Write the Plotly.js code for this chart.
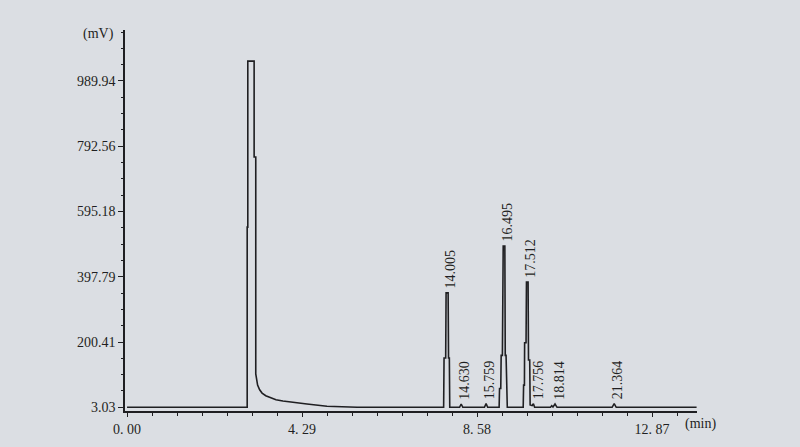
<!DOCTYPE html>
<html>
<head>
<meta charset="utf-8">
<script src="https://cdn.plot.ly/plotly-3.0.1.min.js"></script>
<style>html,body{margin:0;padding:0;background:#dbdee3;}#chart{width:800px;height:447px;}</style>
</head>
<body>
<div id="chart"></div>
<script>
// Chromatogram trace (time on axis units, signal in mV)
var timeMin = [0, 2.945, 2.945, 2.96, 2.96, 3.115, 3.115, 3.155, 3.155,
  3.17, 3.20, 3.25, 3.31, 3.40, 3.51, 3.65, 3.82, 4.10, 4.41, 4.90, 5.64,
  7.76, 7.77, 7.81, 7.82, 7.87, 7.88, 7.90, 7.91,
  8.15, 8.19, 8.23,
  8.76, 8.80, 8.84,
  9.12, 9.13, 9.16, 9.17, 9.20, 9.22, 9.26, 9.27, 9.29, 9.30, 9.32,
  9.71, 9.72, 9.74, 9.745, 9.78, 9.79, 9.83, 9.84, 9.87, 9.88, 9.93, 9.96, 9.99,
  10.38, 10.41, 10.44, 10.49, 10.54,
  11.89, 11.94, 11.99,
  13.96];
var signalMv = [3, 3, 548, 548, 1050, 1050, 760, 760, 104,
  86, 70, 56, 46, 38, 32, 26, 22, 17, 13, 6, 3,
  3, 152, 152, 349, 349, 152, 152, 3,
  3, 13, 3,
  3, 14, 3,
  3, 60, 60, 160, 160, 491, 491, 160, 160, 60, 3,
  3, 70, 70, 198, 198, 382, 382, 146, 146, 10, 8, 14, 3,
  3, 8, 4, 13, 3,
  3, 14, 3,
  3];

// Peak labels (retention times printed on the chart)
var peakLabels = ["14.005", "14.630", "15.759", "16.495", "17.512", "17.756", "18.814", "21.364"];
var peakTimeMin = [7.845, 8.19, 8.80, 9.24, 9.81, 10.0, 10.52, 11.94];
var peakTopMv = [349, 13, 14, 491, 382, 14, 13, 14];

// Axis ticks
var xTickVals = [0, 4.29, 8.58, 12.87];
var xTickText = ["0. 00", "4. 29", "8. 58", "12. 87"];
var yTickVals = [3.03, 200.41, 397.79, 595.18, 792.56, 989.94];
var yTickText = ["3.03", "200.41", "397.79", "595.18", "792.56", "989.94"];

var ink = "#1f1f22";
var font = "Liberation Serif, Times New Roman, serif";

var trace = {
  x: timeMin, y: signalMv, type: "scatter", mode: "lines",
  line: {color: ink, width: 1.6}, hoverinfo: "skip"
};

var annotations = peakLabels.map(function (t, i) {
  return {
    x: peakTimeMin[i], y: peakTopMv[i], xref: "x", yref: "y",
    text: t, showarrow: false, textangle: -90,
    xanchor: "center", yanchor: "bottom", xshift: 3, yshift: 2,
    font: {family: font, size: 14, color: ink}
  };
});
annotations.push({
  xref: "paper", yref: "paper", x: 0, y: 1, xanchor: "right", yanchor: "middle",
  xshift: -9, yshift: -4, text: "(mV)", showarrow: false,
  font: {family: font, size: 14, color: ink}
});
annotations.push({
  xref: "paper", yref: "paper", x: 1, y: 0, xanchor: "center", yanchor: "middle",
  xshift: 3, yshift: -13, text: "(min)", showarrow: false,
  font: {family: font, size: 14, color: ink}
});

var layout = {
  width: 800, height: 447,
  margin: {l: 125, r: 103, t: 30, b: 36, pad: 0},
  paper_bgcolor: "#dbdee3", plot_bgcolor: "#dbdee3",
  showlegend: false, hovermode: false,
  font: {family: font, size: 14, color: ink},
  xaxis: {
    range: [-0.05, 13.97], showgrid: false, zeroline: false,
    showline: true, linecolor: ink, linewidth: 1.7,
    tickmode: "array", tickvals: xTickVals, ticktext: xTickText,
    ticks: "outside", ticklen: 4, tickwidth: 1, tickcolor: ink,
    minor: {dtick: 0.612857, tick0: 0, ticks: "outside", ticklen: 3, tickwidth: 1, tickcolor: ink, showgrid: false},
    tickfont: {family: font, size: 14, color: ink}, fixedrange: true
  },
  yaxis: {
    range: [-8.2, 1144], showgrid: false, zeroline: false,
    showline: true, linecolor: ink, linewidth: 1.7,
    tickmode: "array", tickvals: yTickVals, ticktext: yTickText,
    ticks: "outside", ticklen: 5, tickwidth: 1, tickcolor: ink,
    minor: {dtick: 49.345, tick0: 3.03, ticks: "outside", ticklen: 2, tickwidth: 1, tickcolor: ink, showgrid: false},
    tickfont: {family: font, size: 14, color: ink}, fixedrange: true
  },
  annotations: annotations
};

Plotly.newPlot("chart", [trace], layout, {staticPlot: true, displayModeBar: false});
</script>
</body>
</html>
